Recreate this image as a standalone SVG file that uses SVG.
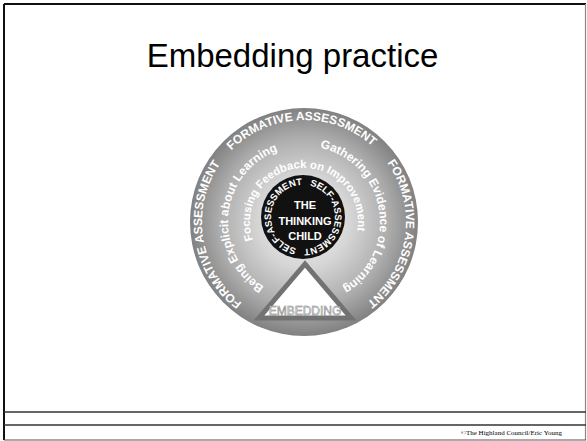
<svg xmlns="http://www.w3.org/2000/svg" width="587" height="441" viewBox="0 0 587 441">
<defs>
<radialGradient id="disc" cx="304" cy="222" r="114" gradientUnits="userSpaceOnUse">
<stop offset="0" stop-color="#f2f2f2"/>
<stop offset="0.4" stop-color="#d6d6d6"/>
<stop offset="0.75" stop-color="#acacac"/>
<stop offset="1" stop-color="#818181"/>
</radialGradient>
<path id="pOuter" d="M304 324 A102 102 0 1 1 304 120 A102 102 0 1 1 304 324 A102 102 0 1 1 304 120"/>
<path id="pMid" d="M304 298 A76 76 0 1 1 304 146 A76 76 0 1 1 304 298 A76 76 0 1 1 304 146"/>
<path id="pInner" d="M304 276 A54 54 0 1 1 304 168 A54 54 0 1 1 304 276 A54 54 0 1 1 304 168"/>
<path id="pSelf" d="M303 249 A32 32 0 1 1 303 185 A32 32 0 1 1 303 249 A32 32 0 1 1 303 185"/>
</defs>
<style>
.ring{font-family:"Liberation Sans",Arial,sans-serif;font-weight:bold;fill:#ffffff}
.frame{stroke:#111;fill:none}
</style>
<rect width="587" height="441" fill="#ffffff"/>
<g id="frame">
<line class="frame" x1="4" y1="4" x2="586" y2="4" stroke-width="2"/>
<line class="frame" x1="4" y1="4" x2="4" y2="440" stroke-width="2"/>
<line x1="585.5" y1="4" x2="585.5" y2="440" stroke="#888" stroke-width="1.2"/>
<line x1="4" y1="440" x2="586" y2="440" stroke="#555" stroke-width="1.2"/>
<line x1="4" y1="412" x2="586" y2="412" stroke="#333" stroke-width="1.3"/>
<line x1="4" y1="425" x2="586" y2="425" stroke="#333" stroke-width="1.3"/>
</g>
<g id="title">
<text x="292.5" y="67" text-anchor="middle" font-family="Liberation Sans, Arial, sans-serif" font-size="33" fill="#000">Embedding practice</text>
</g>
<g id="wheel">
<circle cx="304" cy="222" r="114" fill="url(#disc)"/>
<text class="ring" font-size="12" text-anchor="middle"><textPath href="#pOuter" startOffset="144.2">FORMATIVE ASSESSMENT</textPath></text>
<text class="ring" font-size="12" text-anchor="middle"><textPath href="#pOuter" startOffset="316.9">FORMATIVE ASSESSMENT</textPath></text>
<text class="ring" font-size="12" text-anchor="middle"><textPath href="#pOuter" startOffset="494.6">FORMATIVE ASSESSMENT</textPath></text>
<text class="ring" font-size="12" text-anchor="middle"><textPath href="#pMid" startOffset="126.8">Being Explicit about Learning</textPath></text>
<text class="ring" font-size="12" text-anchor="middle"><textPath href="#pMid" startOffset="345.5">Gathering Evidence of Learning</textPath></text>
<text class="ring" font-size="11.3" text-anchor="middle"><textPath href="#pInner" startOffset="164.6">Focusing Feedback on Improvement</textPath></text>
</g>
<g id="child">
<circle cx="303" cy="217" r="42" fill="#111"/>
<text class="ring" font-size="9.5" text-anchor="middle"><textPath href="#pSelf" startOffset="53.1">SELF-ASSESSMENT</textPath></text>
<text class="ring" font-size="9.5" text-anchor="middle"><textPath href="#pSelf" startOffset="153.6">SELF-ASSESSMENT</textPath></text>
<text class="ring" font-size="11" text-anchor="middle" x="305" y="209">THE</text>
<text class="ring" font-size="11" text-anchor="middle" x="305" y="225">THINKING</text>
<text class="ring" font-size="11" text-anchor="middle" x="305" y="240">CHILD</text>
</g>
<g id="embedding">
<polygon points="305,264 259,318 351,318" fill="#ffffff" stroke="#727272" stroke-width="5" stroke-linejoin="miter"/>
<text x="305" y="315" text-anchor="middle" font-family="Liberation Sans, Arial, sans-serif" font-size="12" fill="#f8f8f8" stroke="#777" stroke-width="0.5">EMBEDDING</text>
</g>
<g id="footer">
<text x="562" y="435" text-anchor="end" font-family="Liberation Serif, Times New Roman, serif" font-size="7" fill="#000">©The Highland Council/Eric Young</text>
</g>
</svg>
